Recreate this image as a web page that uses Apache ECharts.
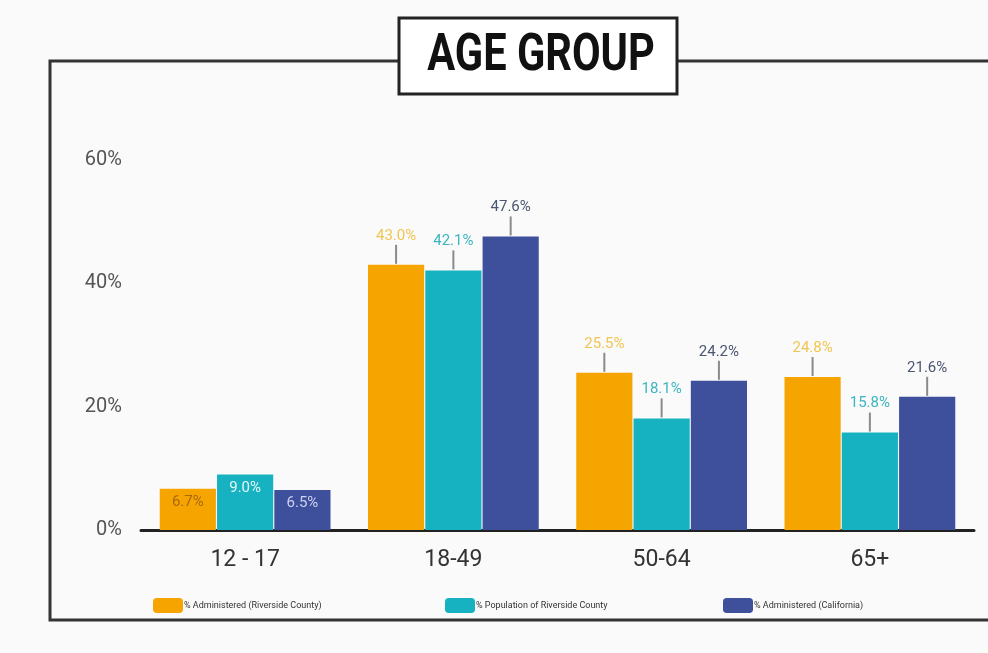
<!DOCTYPE html>
<html>
<head>
<meta charset="utf-8">
<script src="https://cdn.jsdelivr.net/npm/echarts@6/dist/echarts.min.js"></script>
<style>
  html, body { margin: 0; padding: 0; background: #fafafa; }
  #chart { width: 988px; height: 653px; }
</style>
</head>
<body>
<div id="chart"></div>
<script>
// data
var categories = ['12 - 17', '18-49', '50-64', '65+'];
var seriesNames = ['% Administered (Riverside County)', '% Population of Riverside County', '% Administered (California)'];
var riversideAdmin = [6.7, 43.0, 25.5, 24.8];
var riversidePop = [9.0, 42.1, 18.1, 15.8];
var californiaAdmin = [6.5, 47.6, 24.2, 21.6];
var yTicks = [0, 20, 40, 60];

var colors = ['#f6a400', '#16b2c2', '#3e4f9b'];
var labelColors = ['#f0c552', '#3bb5c0', '#4b5672'];
var insideColors = ['#a86a10', '#e6f6f7', '#cdd2f2'];

var myChart = echarts.init(document.getElementById('chart'));

function buildSeries(name, values, idx) {
	var data = values.map(function(v, i){
		if (i === 0) {
			// short bars: value sits inside the bar
			return {
				value: v,
				label: {
					position: 'insideTop',
					distance: 6,
					formatter: function(p){ return p.value.toFixed(1) + '%'; },
					color: insideColors[idx],
					fontSize: 15
				}
			};
		}
		return v;
	});
	return {
		name: name,
		type: 'bar',
		barGap: '2%',
		barCategoryGap: '18%',
		itemStyle: { color: colors[idx] },
		label: {
			show: true,
			position: 'top',
			distance: 1,
			formatter: function(p){ return '{v|' + p.value.toFixed(1) + '%}\n{l|}'; },
			rich: {
				v: { color: labelColors[idx], fontSize: 15, fontFamily: 'Roboto', lineHeight: 18, align: 'center' },
				l: { width: 2, height: 19, backgroundColor: '#8a8a8a', align: 'center' }
			}
		},
		data: data
	};
}

var legendLefts = [148, 440, 718];

var option = {
	backgroundColor: '#fafafa',
	animation: false,
	textStyle: { fontFamily: 'Roboto' },
	legend: seriesNames.map(function(n, i){
		return {
			data: [n],
			left: legendLefts[i],
			top: 593,
			itemWidth: 30,
			itemHeight: 15,
			itemGap: 4,
			textStyle: { fontSize: 9, color: '#333', fontFamily: 'Liberation Sans Narrow, Roboto', padding: [0, 0, 0, -4] },
			selectedMode: false
		};
	}),
	grid: { left: 141, right: 14, top: 160, bottom: 123 },
	xAxis: {
		type: 'category',
		data: categories,
		axisTick: { show: false },
		axisLine: { lineStyle: { color: '#222', width: 3 } },
		axisLabel: { fontSize: 23, color: '#333', margin: 19 }
	},
	yAxis: {
		type: 'value',
		min: yTicks[0],
		max: yTicks[yTicks.length - 1],
		interval: 20,
		splitLine: { show: false },
		axisLabel: { formatter: '{value}%', fontSize: 20, color: '#555', margin: 19 }
	},
	graphic: [
		{
			type: 'polyline',
			shape: { points: [[399, 61], [50, 61], [50, 620], [1000, 620]] },
			style: { stroke: '#333', lineWidth: 3, fill: null }
		},
		{
			type: 'line',
			shape: { x1: 677, y1: 61, x2: 1000, y2: 61 },
			style: { stroke: '#333', lineWidth: 3 }
		},
		{
			type: 'rect',
			shape: { x: 399, y: 18, width: 278, height: 76 },
			style: { fill: '#ffffff', stroke: '#222', lineWidth: 3 }
		},
		{
			type: 'text',
			x: 541, y: 57,
			scaleX: 0.8,
			style: {
				text: 'AGE GROUP',
				font: 'bold 52px Roboto',
				fill: '#111',
				textAlign: 'center',
				textVerticalAlign: 'middle'
			}
		}
	],
	series: [
		buildSeries(seriesNames[0], riversideAdmin, 0),
		buildSeries(seriesNames[1], riversidePop, 1),
		buildSeries(seriesNames[2], californiaAdmin, 2)
	]
};

myChart.setOption(option);
</script>
</body>
</html>
